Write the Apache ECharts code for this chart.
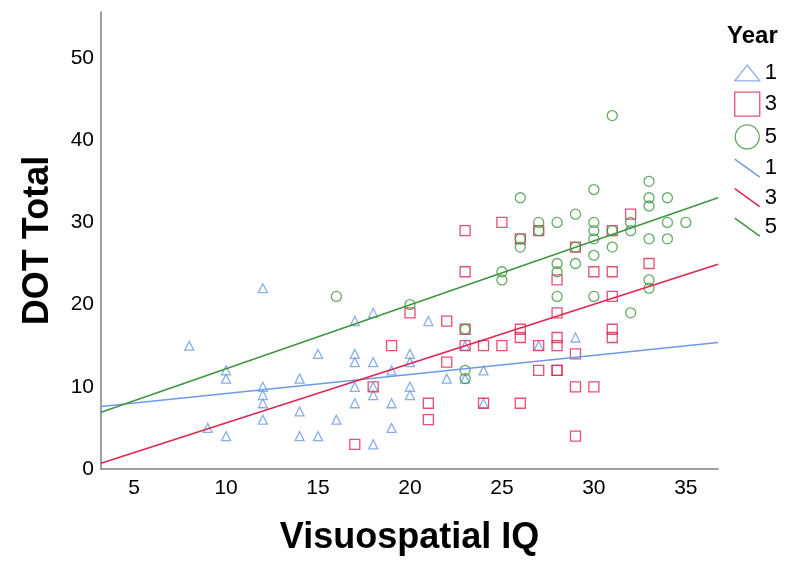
<!DOCTYPE html>
<html>
<head>
<meta charset="utf-8">
<script src="https://cdn.jsdelivr.net/npm/echarts@6/dist/echarts.min.js"></script>
<style>html,body{margin:0;padding:0;background:#fff}#c{width:785px;height:561px}</style>
</head>
<body>
<div id="c"></div>
<script>
// Year 1 (triangles): [Visuospatial IQ, DOT Total]
const year1 = [[8,15],[9,5],[10,12],[10,11],[10,4],[12,22],[12,10],[12,9],[12,8],[12,6],[14,11],[14,7],[14,4],[15,14],[15,4],[16,6],[17,18],[17,14],[17,13],[17,10],[17,8],[18,19],[18,13],[18,10],[18,9],[18,3],[19,12],[19,8],[19,5],[20,14],[20,13],[20,10],[20,9],[21,18],[22,11],[23,15],[23,11],[24,12],[24,8],[27,15],[29,16]];
// Year 3 (squares)
const year3 = [[17,3],[18,10],[19,15],[20,19],[21,8],[21,6],[22,18],[22,13],[23,29],[23,24],[23,17],[23,15],[24,15],[24,8],[25,30],[25,15],[26,28],[26,17],[26,16],[26,8],[27,29],[27,15],[27,12],[28,23],[28,19],[28,16],[28,15],[28,12],[28,12],[29,27],[29,14],[29,10],[29,4],[30,24],[30,10],[31,29],[31,24],[31,21],[31,17],[31,16],[32,31],[33,25]];
// Year 5 (circles)
const year5 = [[16,21],[20,20],[23,17],[23,12],[23,11],[25,24],[25,23],[26,33],[26,28],[26,27],[27,30],[27,29],[28,30],[28,25],[28,24],[28,21],[29,31],[29,27],[29,25],[30,34],[30,30],[30,29],[30,28],[30,26],[30,21],[31,43],[31,29],[31,27],[32,30],[32,29],[32,19],[33,35],[33,33],[33,32],[33,28],[33,23],[33,22],[34,33],[34,30],[34,28],[35,30]];
// Fit lines: x range and y at the ends
const fitX = [3.2, 36.75];
const fit1 = [7.6, 15.4];
const fit3 = [0.7, 24.9];
const fit5 = [6.9, 33.0];

const cBlue = '#6b9be6', cRed = '#e0244f', cGreen = '#3f963f';
const axisRange = { xMin: 3.2, xMax: 36.75, yMin: 0, yMax: 55.6 };

const chart = echarts.init(document.getElementById('c'));
const hollow = c => ({ color: 'transparent', borderColor: c, borderWidth: 1.3 });
const fitData = ys => fitX.map((x, i) => [x, ys[i]]);

chart.setOption({
  animation: false,
  backgroundColor: '#fff',
  textStyle: { fontFamily: 'Liberation Sans, Arial, sans-serif' },
  title: {
    text: 'Year', left: 722, top: 19,
    textStyle: { fontSize: 24, fontWeight: 'bold', color: '#000' }
  },
  grid: { left: 101, right: 67, top: 12, bottom: 91, containLabel: false },
  xAxis: {
    type: 'value', min: axisRange.xMin, max: axisRange.xMax,
    name: 'Visuospatial IQ', nameLocation: 'middle', nameGap: 51,
    nameTextStyle: { fontSize: 36, fontWeight: 'bold', color: '#000' },
    axisLine: { show: true, lineStyle: { color: '#808080', width: 1.5 } },
    axisTick: { show: false },
    splitLine: { show: false },
    axisLabel: {
      fontSize: 21, color: '#000', margin: 9, showMinLabel: false, showMaxLabel: false,
      formatter: v => (Math.abs(v % 5) < 1e-6 ? String(v) : '')
    }
  },
  yAxis: {
    type: 'value', min: axisRange.yMin, max: axisRange.yMax,
    name: 'DOT Total', nameLocation: 'middle', nameGap: 45, nameRotate: 90,
    nameTextStyle: { fontSize: 36, fontWeight: 'bold', color: '#000' },
    axisLine: { show: true, lineStyle: { color: '#808080', width: 1.5 } },
    axisTick: { show: false },
    splitLine: { show: false },
    axisLabel: {
      fontSize: 21, color: '#000', margin: 7, showMaxLabel: false,
      formatter: v => (Math.abs(v % 10) < 1e-6 ? String(v) : '')
    }
  },
  legend: {
    orient: 'vertical', left: 729, top: 57, itemGap: 7.5,
    itemWidth: 25, itemHeight: 24,
    textStyle: { fontSize: 22, color: '#000' },
    formatter: n => n.replace('L', ''),
    data: [
      { name: '1', icon: 'path://M11,0L22,14L0,14Z', itemStyle: { color: 'transparent', borderColor: cBlue, borderWidth: 1.3 } },
      { name: '3', icon: 'rect', itemStyle: { color: 'transparent', borderColor: cRed, borderWidth: 1.3 } },
      { name: '5', icon: 'circle', itemStyle: { color: 'transparent', borderColor: cGreen, borderWidth: 1.3 } },
      { name: 'L1', icon: 'path://M0,0L28,20', itemStyle: { color: 'transparent', borderColor: cBlue, borderWidth: 1.5 } },
      { name: 'L3', icon: 'path://M0,0L28,20', itemStyle: { color: 'transparent', borderColor: cRed, borderWidth: 1.5 } },
      { name: 'L5', icon: 'path://M0,0L28,20', itemStyle: { color: 'transparent', borderColor: cGreen, borderWidth: 1.5 } }
    ]
  },
  series: [
    { name: '1', type: 'scatter', data: year1, symbol: 'triangle', symbolSize: 9, itemStyle: hollow(cBlue) },
    { name: '3', type: 'scatter', data: year3, symbol: 'rect', symbolSize: 10, itemStyle: hollow(cRed) },
    { name: '5', type: 'scatter', data: year5, symbol: 'circle', symbolSize: 10, itemStyle: hollow(cGreen) },
    { name: 'L1', type: 'line', data: fitData(fit1), showSymbol: false, symbol: 'none', lineStyle: { color: cBlue, width: 1.5 }, itemStyle: { color: cBlue } },
    { name: 'L3', type: 'line', data: fitData(fit3), showSymbol: false, symbol: 'none', lineStyle: { color: cRed, width: 1.5 }, itemStyle: { color: cRed } },
    { name: 'L5', type: 'line', data: fitData(fit5), showSymbol: false, symbol: 'none', lineStyle: { color: cGreen, width: 1.5 }, itemStyle: { color: cGreen } }
  ]
});
</script>
</body>
</html>
